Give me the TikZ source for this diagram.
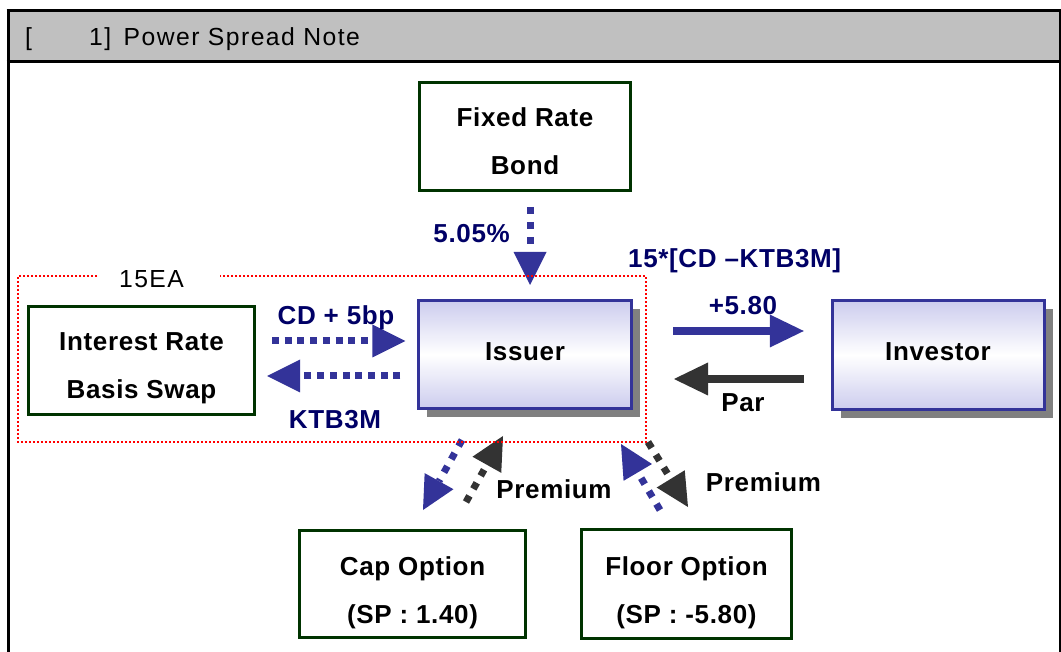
\documentclass[tikz,border=0pt]{standalone}
\usepackage{fontspec}
\setmainfont{Liberation Sans}[LetterSpace=2.5]
\usetikzlibrary{arrows.meta,shadows,calc}
\definecolor{frameGray}{RGB}{192,192,192}
\definecolor{boxGreen}{RGB}{0,51,0}
\definecolor{arrBlue}{RGB}{51,51,153}
\definecolor{txtNavy}{RGB}{0,0,102}
\definecolor{arrDark}{RGB}{51,51,51}
\definecolor{shadowGray}{RGB}{128,128,128}
\definecolor{fillLav}{RGB}{204,204,238}
\definecolor{dotRed}{RGB}{255,0,0}
\newcommand\lblfont{\fontsize{26}{48}\selectfont\bfseries}
\newcommand\plainfont{\fontsize{24.7}{30}\selectfont\addfontfeatures{LetterSpace=6.0}}
\newcommand\twolines[3][-4pt]{\raisebox{#1}[\height][\depth]{\begin{tabular}{@{}c@{}}#2\\#3\end{tabular}}}
\begin{document}
\begin{tikzpicture}[x=1pt,y=-1pt,
  greenbox/.style={draw=boxGreen, line width=3pt, fill=white, inner sep=0pt, font=\lblfont},
  purplebox/.style={draw=arrBlue, line width=3pt, inner sep=0pt, font=\lblfont,
     top color=fillLav, bottom color=fillLav, middle color=white,
     drop shadow={shadow xshift=8.5pt, shadow yshift=-8.5pt, fill=shadowGray, opacity=1},
     text height=18.6pt, text depth=7pt},
  navylbl/.style={font=\lblfont, text=txtNavy, inner sep=0pt},
  blacklbl/.style={font=\lblfont, text=black, inner sep=0pt},
  dotarrow/.style={line width=7pt, dash pattern=on 7pt off 8pt, -{Triangle[length=33pt,width=33pt,line width=0pt]}},
  hdotarrow/.style={dotarrow, dash pattern=on 7pt off 5.7pt},
  solidarrow/.style={line width=8pt, -{Triangle[length=34pt,width=33pt,line width=0pt]}},
  reddot/.style={draw=dotRed, line width=2pt, dash pattern=on 2pt off 2pt},
]
\useasboundingbox (0,0) rectangle (1061,652);
% frame
\fill[frameGray] (8,11) rectangle (1060,61);
\draw[line width=2.7pt] (6.7,10.7) -- (1061,10.7);
\draw[line width=2.7pt] (6.7,61.3) -- (1061,61.3);
\draw[line width=3.3pt] (8.3,9.3) -- (8.3,660);
\draw[line width=1.7pt] (1060.2,9.3) -- (1060.2,660);
\node[font=\plainfont, anchor=base west, inner sep=0pt] (title) at (25,46) {\makebox[64pt][l]{[}1]\hspace{4pt} Power Spread Note};

% boxes
\node[greenbox, minimum width=211pt, minimum height=108pt] (frb) at (525,136.5) {\twolines{Fixed Rate}{Bond}};
\node[greenbox, minimum width=226pt, minimum height=108pt] (irbs) at (141.5,360.5) {\twolines{Interest Rate}{Basis Swap}};
\node[purplebox, minimum width=213pt, minimum height=108pt] (issuer) at (525,354.5) {Issuer};
\node[purplebox, minimum width=212pt, minimum height=109pt] (investor) at (938,355) {Investor};
\node[greenbox, minimum width=226pt, minimum height=107pt] (cap) at (412.5,584) {\twolines[-6pt]{Cap Option}{(SP : 1.40)}};
\node[greenbox, minimum width=210pt, minimum height=109pt] (floor) at (686.5,584) {\twolines[-6pt]{Floor Option}{(SP : -5.80)}};

% straight arrows
\draw[dotarrow, arrBlue] ([xshift=5pt]frb.south) -- ([xshift=5pt]issuer.north) [shorten <=15pt, shorten >=14pt];
\draw[hdotarrow, arrBlue, shorten <=16pt, shorten >=11.7pt] (irbs.east |- 0,341) -- (issuer.west |- 0,341);
\draw[hdotarrow, arrBlue, shorten <=16.7pt, shorten >=11pt] (issuer.west |- 0,376) -- (irbs.east |- 0,376);
\draw[solidarrow, arrBlue, shorten <=40pt, shorten >=26.7pt] (issuer.east |- 0,331) -- (investor.west |- 0,331);
\draw[solidarrow, arrDark, shorten <=26.7pt, shorten >=41pt] (investor.west |- 0,379) -- (issuer.east |- 0,379);

% diagonal arrows
\coordinate (lbS) at (462,440); \coordinate (lbE) at (423,510);
\coordinate (lgS) at (466,502); \coordinate (lgE) at (503,436);
\coordinate (rgS) at (648,442); \coordinate (rgE) at (688,507);
\coordinate (rbS) at (660,510); \coordinate (rbE) at (621,444);
\draw[dotarrow, arrBlue] (lbS) -- (lbE);
\draw[dotarrow, arrDark] (lgS) -- (lgE);
\draw[dotarrow, arrDark] (rgS) -- (rgE);
\draw[dotarrow, arrBlue] (rbS) -- (rbE);

% labels
\node[navylbl, anchor=base east] (pct) at (510,242.5) {5.05\%};
\node[navylbl, anchor=base west] (spread) at (628,267.5) {15*[CD –KTB3M]};
\node[navylbl, anchor=base] (cdlbl) at (336,324.5) {CD + 5bp};
\node[navylbl, anchor=base] (ktblbl) at (335,428.5) {KTB3M};
\node[navylbl, anchor=base] (plus) at (743,314.5) {+5.80};
\node[blacklbl, anchor=base] (par) at (743,411.5) {Par};
\node[blacklbl, anchor=base] (prem1) at (554,498.5) {Premium};
\node[blacklbl, anchor=base] (prem2) at (763.5,491.5) {Premium};
\node[font=\plainfont, anchor=base, inner sep=0pt] (ea) at (151.5,288) {15EA};

% red dotted group
\draw[reddot] (97,276) -- (18,276) -- (18,442) -- (646,442) -- (646,276) -- (220,276);
\end{tikzpicture}
\end{document}
